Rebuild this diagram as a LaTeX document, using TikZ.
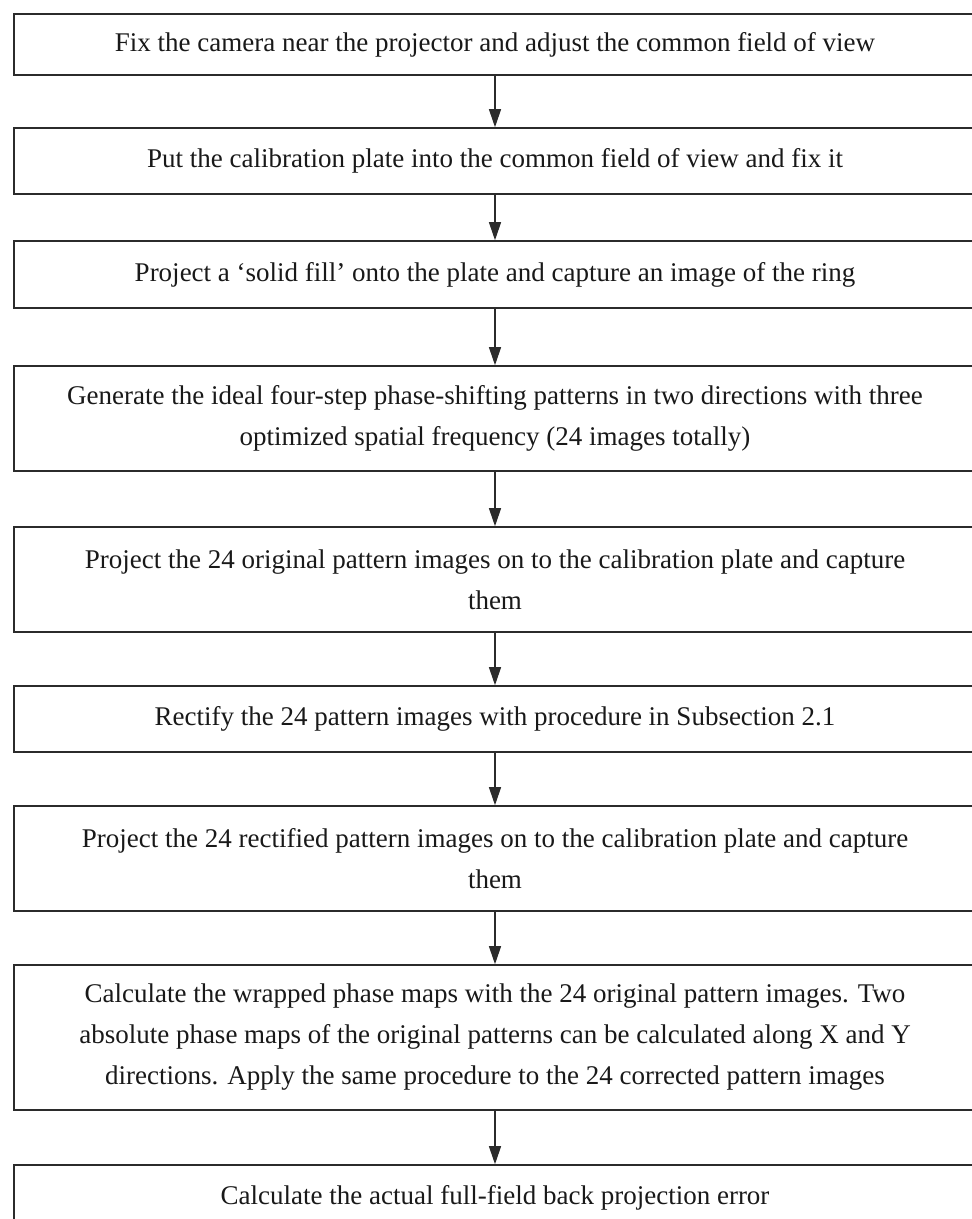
\documentclass[tikz,border=0pt]{standalone}
\usepackage{fontspec}
\setmainfont{Liberation Serif}
\usepackage{tikz}
\usetikzlibrary{arrows.meta,positioning}
\definecolor{boxline}{HTML}{2B2B2B}

\begin{document}
\begin{tikzpicture}
[x=1pt,y=-1pt,>={Triangle[length=18pt,width=12pt]},
  stepbox/.style={draw=boxline,line width=1.6pt,minimum width=962pt,inner sep=0pt,
    align=center,font=\fontsize{27}{41}\selectfont,text=black!90},
  flow/.style={->,line width=1.2pt,draw=boxline}]

  \clip (0,0) rectangle (972,1219);
  \fill[white] (0,0) rectangle (972,1219);

  \node[stepbox,minimum height=61pt] (camera) at 		(495,44.5) 	{Fix the camera near the projector and adjust the common field of view};
  \node[stepbox,minimum height=66pt] (plate) at 		(495,161) 	{Put the calibration plate into the common field of view and fix it};
  \node[stepbox,minimum height=67pt] (solidfill) at 		(495,274.5) 	{Project a ‘solid fill’ onto the plate and capture an image of the ring};

  \node[stepbox,minimum height=105pt] (generate) at 		(495,418.5) 	{Generate the ideal four-step phase-shifting patterns in two directions with three\\optimized spatial frequency (24 images totally)};
  \node[stepbox,minimum height=105pt] (original) at 		(495,579.5) 	{Project the 24 original pattern images on to the calibration plate and capture\\them};
  \node[stepbox,minimum height=66pt] (rectify) at 		(495,719) 	{Rectify the 24 pattern images with procedure in Subsection 2.1};

  \node[stepbox,minimum height=105pt] (rectified) at 		(495,858.5) 	{Project the 24 rectified pattern images on to the calibration plate and capture\\them};
  \node[stepbox,minimum height=145pt] (phase) at 		(495,1037.5) 	{Calculate the wrapped phase maps with the 24 original pattern images. Two\\absolute phase maps of the original patterns can be calculated along X and Y\\directions. Apply the same procedure to the 24 corrected pattern images};
  \node[stepbox,minimum height=66pt] (error) at 		(495,1198) 	{Calculate the actual full-field back projection error};

   \foreach \from/\to in {camera/plate,plate/solidfill,solidfill/generate,generate/original,original/rectify,rectify/rectified,rectified/phase,phase/error}
     \draw[flow] (\from) -- (\to);

\end{tikzpicture}
\end{document}
